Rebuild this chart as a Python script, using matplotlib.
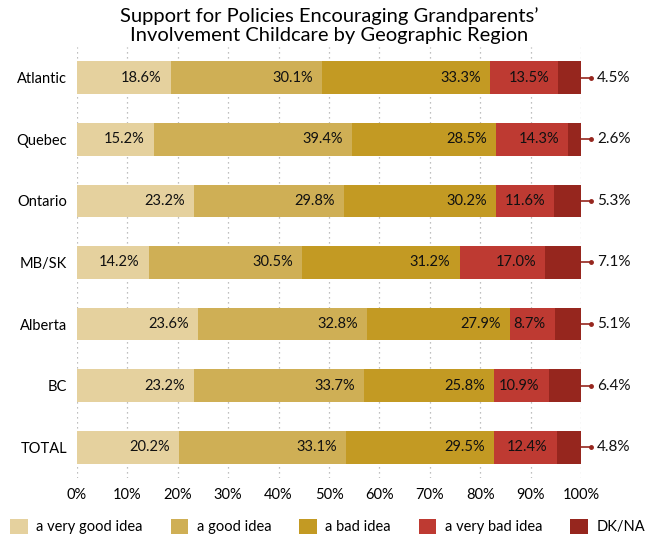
import numpy as np
import matplotlib.pyplot as plt
from matplotlib.patches import Patch

# data
regions = ['Atlantic', 'Quebec', 'Ontario', 'MB/SK', 'Alberta', 'BC', 'TOTAL']
very_good = [18.6, 15.2, 23.2, 14.2, 23.6, 23.2, 20.2]
good = [30.1, 39.4, 29.8, 30.5, 32.8, 33.7, 33.1]
bad = [33.3, 28.5, 30.2, 31.2, 27.9, 25.8, 29.5]
very_bad = [13.5, 14.3, 11.6, 17.0, 8.7, 10.9, 12.4]
dk_na = [4.5, 2.6, 5.3, 7.1, 5.1, 6.4, 4.8]

series = ['a very good idea', 'a good idea', 'a bad idea', 'a very bad idea', 'DK/NA']
colors = ['#E5D19E', '#CFAF55', '#C39A23', '#BE3A32', '#96261E']

plt.rcParams['font.family'] = ['Lato', 'DejaVu Sans']

fig = plt.figure(figsize=(6.45, 5.54), dpi=100)
ax = fig.add_axes([0.1194, 0.1372, 0.7814, 0.778])

values = [very_good, good, bad, very_bad, dk_na]
# bars are stacked to 100% of each row's total
totals = np.sum(np.array(values), axis=0)

y = np.arange(len(regions))
left = np.zeros(len(regions))
for i, (vals, col) in enumerate(zip(values, colors)):
    vals = np.array(vals)
    w = vals / totals
    ax.barh(y, w, left=left, height=0.53, color=col, zorder=2)
    if i < 4:
        for yy, l, ww, v in zip(y, left, w, vals):
            ax.annotate(f'{v:.1f}%', xy=(l + ww, yy), xytext=(-6.5, 0),
                        textcoords='offset points', ha='right', va='center',
                        fontsize=10.5, color='#111111', zorder=3)
    left = left + w

# DK/NA labels outside with a small pointer
for yy, v in zip(y, dk_na):
    ax.plot([1.0, 1.02], [yy, yy], color='#96261E', lw=1.2, clip_on=False, zorder=3)
    ax.plot([1.02], [yy], marker='o', markersize=2.5, color='#96261E',
            clip_on=False, zorder=3)
    ax.text(1.032, yy, f'{v:.1f}%', ha='left', va='center', fontsize=11,
            color='#111111', clip_on=False)

ax.set_xlim(0, 1)
ax.set_ylim(len(regions) - 0.5, -0.5)
ax.set_yticks(y)
ax.set_yticklabels(regions, fontsize=10.5)
ax.set_xticks(np.arange(0, 1.01, 0.1))
ax.set_xticklabels([f'{int(t)}%' for t in np.arange(0, 101, 10)], fontsize=10.5)
ax.tick_params(length=0, pad=7)
ax.grid(axis='x', color='#AAAAAA', linestyle=(0, (1, 3)), linewidth=0.9, zorder=0)
for s in ax.spines.values():
    s.set_visible(False)

ax.set_title('Support for Policies Encouraging Grandparents\u2019\nInvolvement Childcare by Geographic Region',
             fontsize=14.5, linespacing=1.15, pad=4)

handles = [Patch(facecolor=c, edgecolor='none') for c in colors]
fig.legend(handles, series, loc='center', bbox_to_anchor=(0.508, 0.05), ncol=5,
           frameon=False, fontsize=10.5, handlelength=1.2, handleheight=1.2,
           columnspacing=1.9, handletextpad=0.6)

fig.savefig('out.png', dpi=100)
